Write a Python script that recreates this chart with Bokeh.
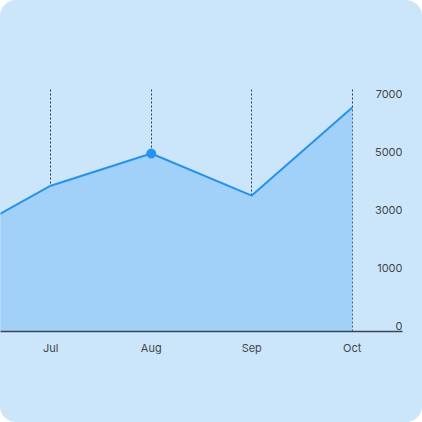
from bokeh.plotting import figure
from bokeh.models import Range1d, FixedTicker, ColumnDataSource
from bokeh.core.properties import value
from bokeh.embed import file_html
from bokeh.resources import INLINE

months = ["Jun", "Jul", "Aug", "Sep", "Oct"]
sales = [2720, 4400, 5370, 4100, 6760]
y_tick_labels = ["0", "1000", "3000", "5000", "7000"]
highlight_month = "Aug"

BG = "#cbe5fb"
AREA = "#a1d0f8"
LINE = "#2592ee"
TEXT = "#464646"
FONT = "Inter"

xs = list(range(len(months)))
src = ColumnDataSource(dict(x=xs, y=sales))

p = figure(width=422, height=422, output_backend="svg", toolbar_location=None,
           x_range=Range1d(0.5, 4.5), y_range=Range1d(0, 7332),
           y_axis_location=None,
           min_border_left=0, min_border_right=20, min_border_top=88, min_border_bottom=91)
p.styles = {"border-radius": "16px", "overflow": "hidden",
            "background-color": BG}
p.background_fill_color = None
p.border_fill_color = None
p.outline_line_color = None

p.varea(x="x", y1=0, y2="y", source=src, fill_color=AREA, fill_alpha=1.0)
p.line(x="x", y="y", source=src, line_color=LINE, line_width=2)
hi = months.index(highlight_month)
p.scatter(x=[xs[hi]], y=[sales[hi]], size=9, fill_color=LINE, line_color=LINE)

# x axis
p.xaxis.ticker = FixedTicker(ticks=xs)
p.xaxis.major_label_overrides = {i: m for i, m in enumerate(months)}
p.xaxis.axis_line_color = "#3f4650"
p.xaxis.axis_line_width = 1.3
p.xaxis.major_tick_line_color = None
p.xaxis.minor_tick_line_color = None
p.xaxis.major_tick_out = 0
p.xaxis.major_tick_in = 0
p.xaxis.major_label_standoff = 9
p.xaxis.major_label_text_font = FONT
p.xaxis.major_label_text_font_size = "11px"
p.xaxis.major_label_text_color = TEXT

# grid
p.xgrid.ticker = FixedTicker(ticks=xs)
p.xgrid.grid_line_color = "#2f3a44"
p.xgrid.grid_line_dash = "2 2"
p.xgrid.grid_line_width = 1
p.ygrid.grid_line_color = None

# y labels inside the plot, right aligned, above tick positions
n = len(y_tick_labels)
ytick_pos = [7000 * i / (n - 1) for i in range(n)]
p.text(x=[4.5] * n, y=ytick_pos, text=y_tick_labels,
       text_align="right", text_baseline="alphabetic", y_offset=-6,
       text_font=value(FONT), text_font_size="11px", text_color=TEXT)

open("out.html", "w").write(file_html(p, INLINE))
